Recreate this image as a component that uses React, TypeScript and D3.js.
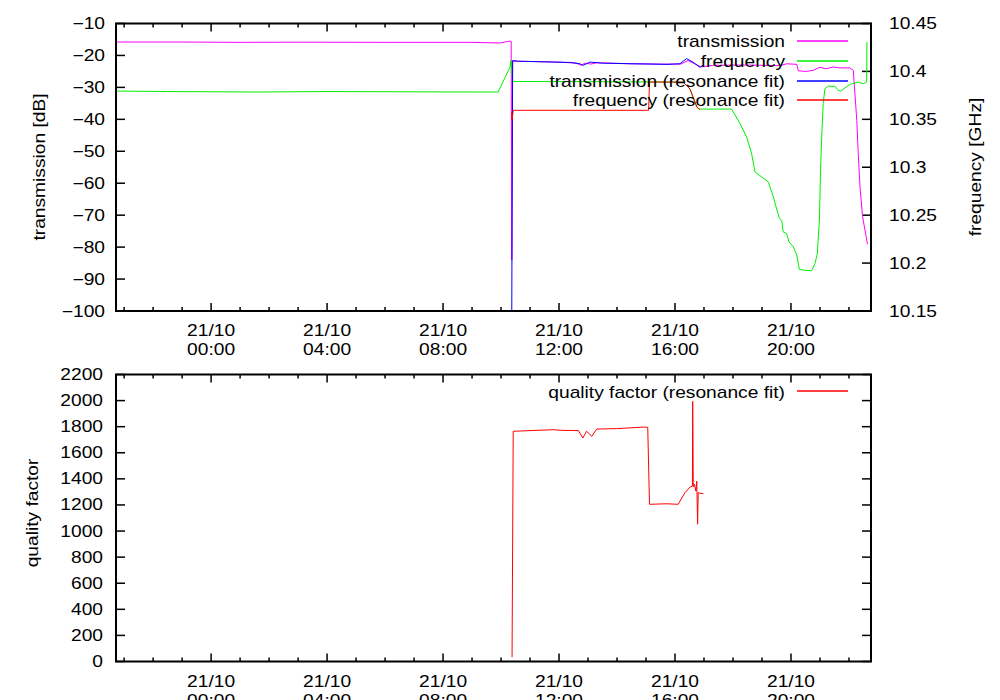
import { useEffect, useRef } from 'react'
import * as d3 from 'd3'

// time is in hours relative to 21/10 00:00
const transmission: [number, number][] = [
  [-3.28, -15.8], [-1.0, -15.8], [1.0, -15.9], [3.0, -15.85], [6.0, -15.9], [9.0, -15.9],
  [9.97, -16.1], [10.3, -15.5], [10.35, -15.6], [10.37, -84.1], [10.4, -21.8], [11.0, -21.9],
  [12.0, -22.1], [12.6, -22.4], [12.75, -23.1], [12.9, -22.4], [13.1, -22.7], [13.3, -22.3],
  [14.5, -22.6], [15.5, -22.7], [16.2, -22.7], [16.45, -21.6], [16.65, -22.5], [16.9, -23.6],
  [17.3, -23.1], [18.5, -23.0], [19.6, -23.2], [19.86, -22.6], [20.2, -22.8], [20.25, -24.8],
  [20.5, -25.0], [20.76, -24.7], [21.0, -23.7], [21.2, -24.2], [21.45, -23.6], [21.69, -23.9],
  [22.03, -23.9], [22.15, -24.7], [22.27, -40.3], [22.32, -50.7], [22.38, -61.1],
  [22.47, -70.5], [22.64, -79.1],
]

const frequency: [number, number][] = [
  [-3.28, 10.3795], [-1.5, 10.379], [1.58, 10.3785], [4.0, 10.379], [6.0, 10.3788],
  [8.0, 10.3786], [9.9, 10.3785], [10.31, 10.4045], [10.34, 10.4115], [10.4, 10.3895],
  [13.0, 10.3893], [16.28, 10.3889], [16.52, 10.3816], [16.62, 10.3732], [16.76, 10.3625],
  [16.86, 10.3607], [17.95, 10.3607], [18.24, 10.3458], [18.47, 10.3316], [18.64, 10.3146],
  [18.76, 10.2951], [18.99, 10.2899], [19.22, 10.2847], [19.39, 10.2691], [19.6, 10.2466],
  [19.68, 10.2448], [19.73, 10.2326], [19.85, 10.2309], [19.93, 10.2222], [20.08, 10.217],
  [20.2, 10.2083], [20.29, 10.1934], [20.42, 10.1927], [20.71, 10.192], [20.83, 10.1997],
  [20.91, 10.2101], [20.98, 10.2448], [21.02, 10.2969], [21.06, 10.3316], [21.11, 10.3664],
  [21.17, 10.382], [21.29, 10.3847], [21.52, 10.3844], [21.63, 10.3802], [21.72, 10.3795],
  [21.83, 10.382], [22.03, 10.3865], [22.32, 10.3889], [22.49, 10.3872], [22.61, 10.3889],
  [22.62, 10.4305],
]

const transmissionFit: [number, number][] = [
  [10.37, -100], [10.4, -21.6], [10.6, -21.8], [11.5, -22.0], [12.4, -22.2], [12.72, -22.6],
  [12.83, -23.1], [13.07, -22.1], [13.5, -22.4], [14.45, -22.6], [15.2, -22.7], [15.72, -22.8],
  [16.17, -22.6], [16.4, -21.0], [16.62, -22.1], [16.86, -23.7], [16.97, -23.0],
]

const frequencyFit: [number, number][] = [
  [10.36, 10.357], [10.38, 10.349], [10.42, 10.3594], [15.09, 10.3594], [15.12, 10.3889],
  [16.28, 10.3889], [16.52, 10.3816], [16.62, 10.3732], [16.76, 10.3625], [16.86, 10.3601],
]

const qualityFit: [number, number][] = [
  [10.38, 33], [10.42, 1765], [10.45, 1765], [11.81, 1777], [12.09, 1772], [12.67, 1770],
  [12.82, 1713], [12.95, 1765], [13.13, 1726], [13.3, 1782], [13.99, 1785], [14.91, 1797],
  [15.06, 1795], [15.12, 1205], [15.71, 1209], [16.11, 1205], [16.34, 1293], [16.52, 1337],
  [16.6, 1345], [16.61, 1994], [16.63, 1340], [16.67, 1358], [16.72, 1306], [16.75, 1383],
  [16.78, 1052], [16.8, 1293], [16.98, 1286],
]

const timeDomain: [number, number] = [-3.28, 22.76]
const majorHours = [0, 4, 8, 12, 16, 20]
const majorLabels = [
  ['21/10', '00:00'], ['21/10', '04:00'], ['21/10', '08:00'],
  ['21/10', '12:00'], ['21/10', '16:00'], ['21/10', '20:00'],
]
const minorHours = d3.range(-3, 23)
const dbTicks = [-10, -20, -30, -40, -50, -60, -70, -80, -90, -100]
const ghzTicks = [10.45, 10.4, 10.35, 10.3, 10.25, 10.2, 10.15]
const ghzLabels = ['10.45', '10.4', '10.35', '10.3', '10.25', '10.2', '10.15']
const qTicks = [0, 200, 400, 600, 800, 1000, 1200, 1400, 1600, 1800, 2000, 2200]

const topSeries = [
  { name: 'transmission', data: transmission, axis: 'db', color: '#ff00ff' },
  { name: 'frequency', data: frequency, axis: 'ghz', color: '#00f000' },
  { name: 'transmission (resonance fit)', data: transmissionFit, axis: 'db', color: '#0000ff' },
  { name: 'frequency (resonance fit)', data: frequencyFit, axis: 'ghz', color: '#ff0000' },
]

const FONT = '"Liberation Sans", Arial, Helvetica, sans-serif'
const SX = 1.2
const fmtMinus = (v: number) => `${v}`.replace('-', '\u2212')

const App = () => {
  const ref = useRef<SVGSVGElement | null>(null)

  useEffect(() => {
    if (!ref.current) return
    const svg = d3.select(ref.current)
    svg.selectAll('*').remove()

    const left = 116
    const right = 871
    const x = d3.scaleLinear().domain(timeDomain).range([left, right])
    const yDb = d3.scaleLinear().domain([-100, -10]).range([311, 23.5])
    const yGhz = d3.scaleLinear().domain([10.15, 10.45]).range([311, 23.5])
    const yQ = d3.scaleLinear().domain([0, 2200]).range([661.5, 374.5])

    const text = (
      px: number,
      py: number,
      str: string,
      anchor: string,
      rotate = false
    ) =>
      svg
        .append('text')
        .attr(
          'transform',
          `translate(${px},${py})${rotate ? ' rotate(-90)' : ''} scale(${SX},1)`
        )
        .attr('text-anchor', anchor)
        .attr('font-family', FONT)
        .attr('font-size', 16)
        .attr('fill', '#000')
        .text(str)

    const tick = (x1: number, y1: number, x2: number, y2: number) =>
      svg
        .append('line')
        .attr('x1', x1)
        .attr('y1', y1)
        .attr('x2', x2)
        .attr('y2', y2)
        .attr('stroke', '#000')
        .attr('stroke-width', 1.5)

    // legend sample line
    const key = (y: number, color: string) =>
      svg
        .append('path')
        .attr('d', `M797,${y}H848`)
        .attr('fill', 'none')
        .attr('stroke', color)
        .attr('stroke-width', 1.3)

    const xAxis = (top: number, bottom: number) => {
      minorHours.forEach((h) => {
        const len = majorHours.includes(h) ? 8 : 4
        tick(x(h), bottom, x(h), bottom - len)
        tick(x(h), top, x(h), top + len)
      })
      majorHours.forEach((h, i) => {
        text(x(h), bottom + 25, majorLabels[i][0], 'middle')
        text(x(h), bottom + 44, majorLabels[i][1], 'middle')
      })
    }

    const frame = (top: number, bottom: number) =>
      svg
        .append('rect')
        .attr('x', left)
        .attr('y', top)
        .attr('width', right - left)
        .attr('height', bottom - top)
        .attr('fill', 'none')
        .attr('stroke', '#000')
        .attr('stroke-width', 2)

    const plotLine = (
      data: [number, number][],
      y: d3.ScaleLinear<number, number>,
      color: string
    ) => {
      const line = d3
        .line<[number, number]>()
        .x((d) => x(d[0]))
        .y((d) => y(d[1]))
      svg
        .append('path')
        .datum(data)
        .attr('fill', 'none')
        .attr('stroke', color)
        .attr('stroke-width', 1)
        .attr('stroke-linejoin', 'round')
        .attr('d', line)
    }

    // top panel
    dbTicks.forEach((v) => {
      tick(left, yDb(v), left + 9, yDb(v))
      text(105, yDb(v) + 5.5, fmtMinus(v), 'end')
    })
    ghzTicks.forEach((v, i) => {
      tick(right, yGhz(v), right - 9, yGhz(v))
      text(889, yGhz(v) + 5.5, ghzLabels[i], 'start')
    })
    xAxis(23.5, 311)

    topSeries.forEach((s) =>
      plotLine(s.data, s.axis === 'db' ? yDb : yGhz, s.color)
    )

    topSeries.forEach((s, i) => {
      const base = Math.round(47 + i * 19.8)
      text(785, base, s.name, 'end')
      key(base - 6, s.color)
    })
    frame(23.5, 311)
    text(45, 167, 'transmission [dB]', 'middle', true)
    text(981, 167, 'frequency [GHz]', 'middle', true)

    // bottom panel
    qTicks.forEach((v) => {
      tick(left, yQ(v), left + 9, yQ(v))
      tick(right, yQ(v), right - 9, yQ(v))
      text(103, yQ(v) + 5.5, `${v}`, 'end')
    })
    xAxis(374.5, 661.5)
    plotLine(qualityFit, yQ, '#ff0000')
    text(785, 398, 'quality factor (resonance fit)', 'end')
    key(391, '#ff0000')
    frame(374.5, 661.5)
    text(38, 513, 'quality factor', 'middle', true)
  }, [])

  return (
    <svg
      ref={ref}
      width={1000}
      height={700}
      style={{ position: 'absolute', left: 0, top: 0, background: '#fff' }}
    />
  )
}

export default App
